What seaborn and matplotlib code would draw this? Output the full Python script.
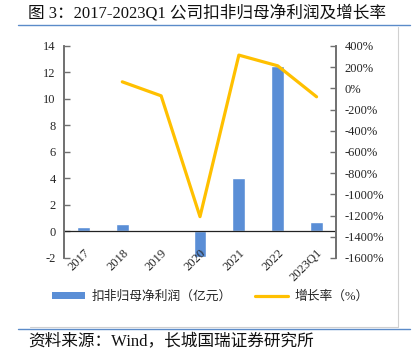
import matplotlib
matplotlib.use("Agg")
import matplotlib.pyplot as plt
from matplotlib.lines import Line2D
from matplotlib.patches import Patch
import seaborn as sns
import pandas as pd

years = ["2017", "2018", "2019", "2020", "2021", "2022", "2023Q1"]
profit = [0.35, 0.6, 0.15, -1.9, 4.0, 12.5, 0.7]  # 亿元
growth_years = ["2018", "2019", "2020", "2021", "2022", "2023Q1"]
growth = [62, -70, -1210, 314, 213, -79]  # %

left_ticks = list(range(-2, 15, 2))
right_ticks = list(range(-1600, 401, 200))

bar_color = "#5A8ED6"
line_color = "#FFC000"
rule_blue = "#5B8BC9"

sns.set_theme(style="white")
plt.rcParams["font.family"] = ["Liberation Serif", "Noto Sans CJK SC"]
plt.rcParams["axes.unicode_minus"] = False

fig = plt.figure(figsize=(4.16, 3.54), dpi=100)
ax = fig.add_axes([64 / 416, 1 - 258 / 354, 272 / 416, 212 / 354])

df_bar = pd.DataFrame({"year": years, "profit": profit})
sns.barplot(data=df_bar, x="year", y="profit", color=bar_color, width=0.33,
            saturation=1, ax=ax, zorder=1)
ax.axhline(0, color="#222222", linewidth=0.9, zorder=1.2)
ax.set_ylim(-2, 14)
ax.set_yticks(left_ticks)
ax.set_yticklabels([str(t) for t in left_ticks])
ax.set_xlim(-0.5, len(years) - 0.5)
ax.set_xlabel("")
ax.set_ylabel("")
ax.xaxis.set_zorder(5)

ax2 = ax.twinx()
df_line = pd.DataFrame({"year": growth_years, "growth": growth})
sns.lineplot(data=df_line, x="year", y="growth", color=line_color, linewidth=2.3,
             sort=False, ax=ax2)
ax2.set_ylim(-1600, 400)
ax2.set_yticks(right_ticks)
ax2.set_yticklabels([f"{t}%" for t in right_ticks])
ax2.set_xlim(-0.5, len(years) - 0.5)
ax2.set_xlabel("")
ax2.set_ylabel("")

for a in (ax, ax2):
    for s in ("top", "bottom"):
        a.spines[s].set_visible(False)
    for s in ("left", "right"):
        a.spines[s].set_color("#707070")
        a.spines[s].set_linewidth(1.2)

ax.tick_params(axis="y", direction="in", length=4, width=1, color="#707070",
               labelsize=9, pad=6, left=True)
ax2.tick_params(axis="y", direction="in", length=4, width=1, color="#707070",
                labelsize=9, pad=6, right=True)
ax.tick_params(axis="x", length=0, labelsize=9, pad=-8)
for lab in ax.get_xticklabels():
    lab.set_rotation(45)
    lab.set_ha("right")
    lab.set_va("top")
    lab.set_rotation_mode("anchor")

handles = [Patch(facecolor=bar_color, edgecolor="none"),
           Line2D([0], [0], color=line_color, linewidth=2.3)]
fig.legend(handles, ["扣非归母净利润（亿元）", "增长率（%）"], loc="center",
           bbox_to_anchor=(210 / 416, 1 - 297 / 354), ncol=2, frameon=False,
           fontsize=9.2, handlelength=2.6, handleheight=0.5, columnspacing=1.8,
           handletextpad=0.5)

fig.text(28 / 416, 1 - 13 / 354, "图 3：2017-2023Q1 公司扣非归母净利润及增长率",
         fontsize=12, va="center", ha="left", color="#111111")
fig.text(28 / 416, 1 - 341 / 354, "资料来源：Wind，长城国瑞证券研究所",
         fontsize=12, va="center", ha="left", color="#111111")

fig.add_artist(Line2D([18 / 416, 410 / 416], [1 - 25 / 354, 1 - 25 / 354],
                      transform=fig.transFigure, color=rule_blue, linewidth=1))
fig.add_artist(Line2D([18 / 416, 410 / 416], [1 - 329 / 354, 1 - 329 / 354],
                      transform=fig.transFigure, color=rule_blue, linewidth=1))
fig.add_artist(Line2D([398 / 416, 398 / 416], [1 - 27 / 354, 1 - 327 / 354],
                      transform=fig.transFigure, color="#D0D0D0", linewidth=0.8))
fig.add_artist(Line2D([30 / 416, 398 / 416], [1 - 327 / 354, 1 - 327 / 354],
                      transform=fig.transFigure, color="#D0D0D0", linewidth=0.8))

fig.savefig("out.png", dpi=100)
